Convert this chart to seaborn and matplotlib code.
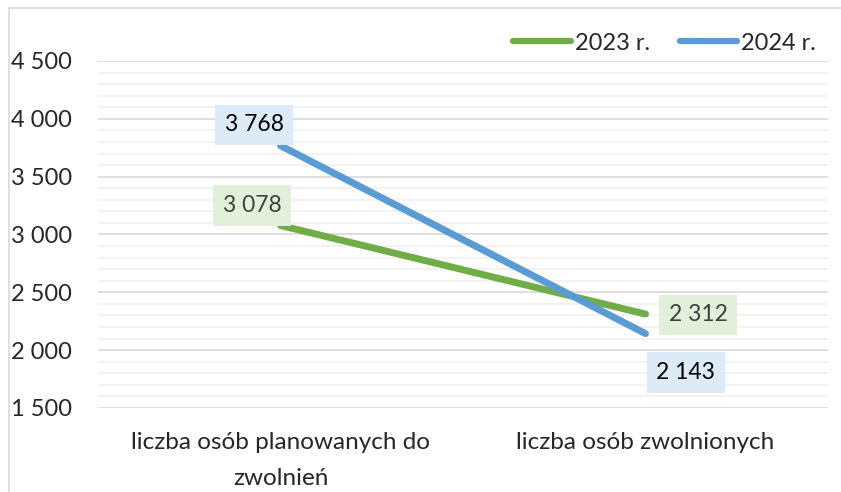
import matplotlib
matplotlib.use("Agg")
import matplotlib.pyplot as plt
import seaborn as sns
import pandas as pd
from matplotlib.patches import Rectangle
from matplotlib.ticker import MultipleLocator, FuncFormatter

categories = ["liczba osób planowanych do\nzwolnień", "liczba osób zwolnionych"]
years = ["2023 r.", "2024 r."]
values_2023 = [3078, 2312]
values_2024 = [3768, 2143]

colors = {"2023 r.": "#70AD47", "2024 r.": "#5B9BD5"}
box_colors = {"2023 r.": "#E2EFDA", "2024 r.": "#DDEBF7"}
text_colors = {"2023 r.": "#404040", "2024 r.": "#000000"}

df = pd.DataFrame({
    "kategoria": categories * 2,
    "x": [0, 1] * 2,
    "rok": [years[0]] * 2 + [years[1]] * 2,
    "wartosc": values_2023 + values_2024,
})

sns.set_style("white")
plt.rcParams["font.family"] = ["Lato", "DejaVu Sans"]

fig = plt.figure(figsize=(8.41, 4.92), dpi=100)
ax = fig.add_axes([98 / 841, 1 - 408 / 492, 730 / 841, 347 / 492])

sns.lineplot(data=df, x="x", y="wartosc", hue="rok", palette=colors,
             linewidth=5, ax=ax, legend=False, solid_capstyle="round", sort=False)

ax.set_xlim(-0.5, 1.5)
ax.set_ylim(1500, 4500)
ax.yaxis.set_major_locator(MultipleLocator(500))
ax.yaxis.set_minor_locator(MultipleLocator(100))
ax.yaxis.set_major_formatter(FuncFormatter(lambda v, p: f"{int(v):,}".replace(",", " ")))
ax.grid(which="major", axis="y", color="#D9D9D9", linewidth=1.2)
ax.grid(which="minor", axis="y", color="#F0F0F0", linewidth=1.2)
ax.set_axisbelow(True)
for s in ax.spines.values():
    s.set_visible(False)
ax.set_xticks([0, 1])
ax.set_xticklabels(categories)
ax.tick_params(axis="x", length=0, pad=17, labelsize=17.5)
ax.tick_params(axis="y", which="both", length=0, pad=18.5, labelsize=17)
for t in ax.get_xticklabels():
    t.set_multialignment("center")
    t.set_linespacing(1.9)
ax.set_xlabel("")
ax.set_ylabel("")

# data labels: box centre offset from the point, in points
offsets = {
    ("2024 r.", 0): (-19, 15),
    ("2023 r.", 0): (-20.5, 14.4),
    ("2023 r.", 1): (37.8, -0.5),
    ("2024 r.", 1): (29, -28),
}
for _, r in df.iterrows():
    dx, dy = offsets[(r["rok"], r["x"])]
    ax.annotate(f"{r['wartosc']:,}".replace(",", " "), (r["x"], r["wartosc"]),
                xytext=(dx, dy), textcoords="offset points", ha="center", va="center",
                fontsize=16.5, color=text_colors[r["rok"]],
                bbox=dict(boxstyle="square,pad=0.42", fc=box_colors[r["rok"]], ec="none"))

# legend
handles = [plt.Line2D([], [], color=colors[y], linewidth=4.5, solid_capstyle="round") for y in years]
fig.legend(handles, years, loc="center", bbox_to_anchor=(664.5 / 841, 1 - 43 / 492),
           ncol=2, frameon=False, fontsize=17, handlelength=2.45, handletextpad=0.15,
           columnspacing=1.27)

# chart border
fig.patches.append(Rectangle((9 / 841, -0.1), 1.2, 1 - 8 / 492 + 0.1, transform=fig.transFigure,
                             fill=False, ec="#D9D9D9", lw=1.2))

fig.savefig("out.png", dpi=100)
plt.close(fig)
